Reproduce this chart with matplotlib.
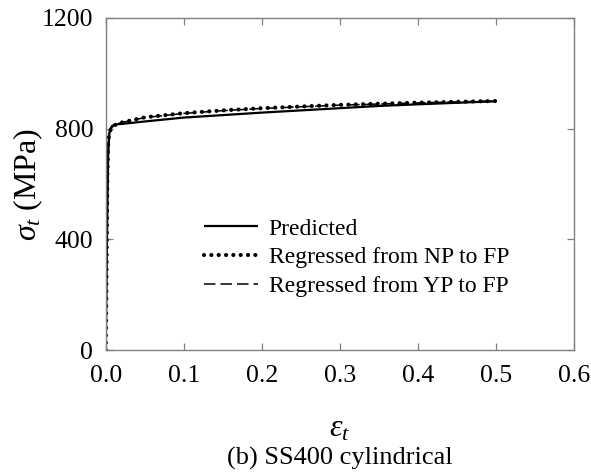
import matplotlib
matplotlib.use("Agg")
import matplotlib.pyplot as plt

plt.rcParams['font.family'] = ['Liberation Serif', 'DejaVu Serif']
plt.rcParams['mathtext.fontset'] = 'custom'
plt.rcParams['mathtext.rm'] = 'Liberation Serif'
plt.rcParams['mathtext.it'] = 'Liberation Serif:italic'

# Predicted curve
pred_strain = [0.0, 0.0015, 0.003, 0.0045, 0.006, 0.008, 0.012, 0.02, 0.05, 0.1, 0.2, 0.3, 0.35, 0.4, 0.5]
pred_stress = [0, 400, 700, 780, 800, 810, 815, 817, 826, 840, 858, 874, 882, 888, 899]

# Regressed from NP to FP
np_strain = [0.0, 0.001, 0.002, 0.003, 0.004, 0.006, 0.01, 0.015, 0.02, 0.05, 0.1, 0.15, 0.2, 0.25, 0.3, 0.35, 0.4, 0.45, 0.5]
np_stress = [0, 300, 620, 745, 775, 795, 810, 818, 822, 841, 856, 866, 874, 880, 886, 890, 894, 897, 900]

# Regressed from YP to FP
yp_strain = [0.0, 0.001, 0.002, 0.003, 0.004, 0.006, 0.01, 0.015, 0.02, 0.05, 0.1, 0.15, 0.2, 0.25, 0.3, 0.35, 0.4, 0.45, 0.5]
yp_stress = [0, 300, 620, 750, 780, 797, 811, 818, 822, 840, 855, 865, 873, 879, 885, 889, 893, 897, 900]

x_ticks = [0.0, 0.1, 0.2, 0.3, 0.4, 0.5, 0.6]
y_ticks = [0, 400, 800, 1200]

fig = plt.figure(figsize=(5.91, 4.73), dpi=100)
ax = fig.add_axes([0.179, 0.260, 0.792, 0.702])

ax.plot(pred_strain, pred_stress, color='black', lw=1.6, solid_capstyle='butt', label='Predicted')
ax.plot(np_strain, np_stress, color='black', lw=3.0, linestyle=(0, (0.01, 1.75)),
        dash_capstyle='round', label='Regressed from NP to FP')
ax.plot(yp_strain, yp_stress, color='black', lw=1.1, linestyle=(0, (7.5, 3.3)),
        label='Regressed from YP to FP')

ax.set_xlim(0, 0.6)
ax.set_ylim(0, 1200)
ax.set_xticks(x_ticks)
ax.set_xticklabels([f'{v:.1f}' for v in x_ticks])
ax.set_yticks(y_ticks)
ax.set_yticklabels([str(v) for v in y_ticks])

for s in ax.spines.values():
    s.set_color('#808080')
    s.set_linewidth(1.0)
ax.tick_params(direction='in', top=True, right=True, length=5, width=0.9,
               color='#808080', labelsize=18.5, labelcolor='black')
ax.tick_params(axis='x', pad=11)
ax.tick_params(axis='y', pad=9)

ax.set_ylabel(r'$\sigma_t$ (MPa)', fontsize=23, labelpad=-2)

leg = ax.legend(loc='upper left', bbox_to_anchor=(0.174, 0.447), frameon=False,
                fontsize=17, handlelength=2.3, handletextpad=0.45, labelspacing=0.3,
                borderpad=0.2)

fig.text(0.5 * (0.179 + 0.971), 1 - 429 / 473, r'$\varepsilon_t$', fontsize=23,
         ha='center', va='center')
fig.text(0.5 * (0.179 + 0.971), 1 - 458 / 473, '(b) SS400 cylindrical', fontsize=19,
         ha='center', va='center')

fig.savefig('out.png', dpi=100)
